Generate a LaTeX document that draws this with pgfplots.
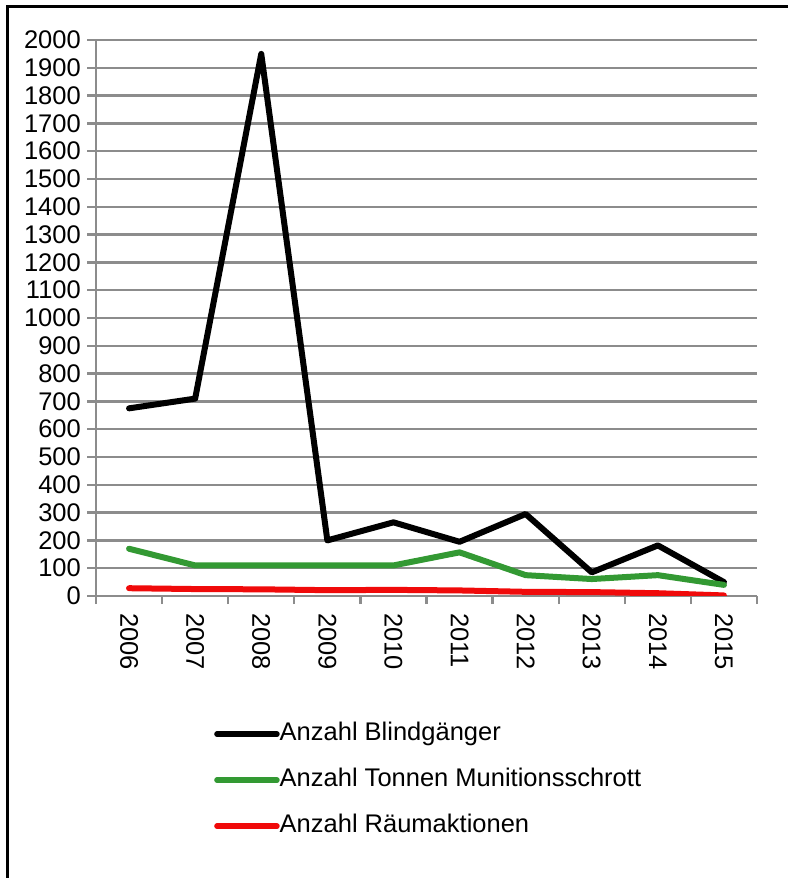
\documentclass[border=0pt]{standalone}
\usepackage{fontspec}
\setmainfont{Liberation Sans}
\usepackage{pgfplots}
\pgfplotsset{compat=1.18}
\definecolor{gridgray}{RGB}{140,140,140}
\definecolor{mygreen}{RGB}{51,153,51}
\definecolor{myred}{RGB}{240,10,10}
\begin{document}
\begin{tikzpicture}[x=1pt,y=1pt]
\useasboundingbox (0,0) rectangle (788,878);
\fill[white] (0,0) rectangle (788,878);
\draw[line width=3pt, black] (7,0) -- (7,871) -- (788,871);
\begin{axis}[
  at={(96pt,282pt)}, anchor=south west,
  scale only axis, width=661pt, height=556pt,
  xmin=-0.5, xmax=9.5, ymin=0, ymax=2000,
  xtick={0,...,9},
  xticklabels={2006,2007,2008,2009,2010,2011,2012,2013,2014,2015},
  minor xtick={-0.5,0.5,...,9.5},
  ytick distance=100,
  ymajorgrids,
  grid style={gridgray, line width=2.3pt},
  axis x line*=bottom, axis y line*=left,
  axis line style={gridgray, line width=2.3pt, -},
  tick align=outside,
  major tick length=9pt, minor tick length=8pt,
  tick style={gridgray, line width=2.3pt},
  major x tick style={draw=none},
  /pgf/number format/assume math mode=true,
  /pgf/number format/1000 sep={},
  tick label style={font=\fontsize{25.5}{28}\selectfont, text=black},
  yticklabel style={inner sep=0pt, xshift=-6pt},
  xticklabel style={rotate=-90, anchor=west, inner sep=0pt, xshift=8pt},
  legend cell align=left,
  legend style={draw=none, fill=none, at={(0.174,-0.223)}, anchor=north west,
    font=\fontsize{25.5}{30}\selectfont, row sep=22pt,
    nodes={inner sep=0pt, text height=18pt, text depth=6pt}},
  legend image code/.code={\draw[#1, line width=5.5pt, line cap=round] (0pt,0pt) -- (60pt,0pt);},
  every axis plot/.append style={line width=6pt, line join=round, line cap=round, mark=none},
]
\addplot[black] coordinates {(0,675) (1,710) (2,1950) (3,200) (4,265) (5,195) (6,295) (7,85) (8,182) (9,50)};
\addplot[mygreen] coordinates {(0,170) (1,110) (2,110) (3,110) (4,110) (5,157) (6,75) (7,61) (8,75) (9,40)};
\addplot[myred] coordinates {(0,28) (1,25) (2,24) (3,21) (4,22) (5,20) (6,15) (7,14) (8,10) (9,2)};
\legend{Anzahl Blindgänger, Anzahl Tonnen Munitionsschrott, Anzahl Räumaktionen}
\end{axis}
\end{tikzpicture}
\end{document}
